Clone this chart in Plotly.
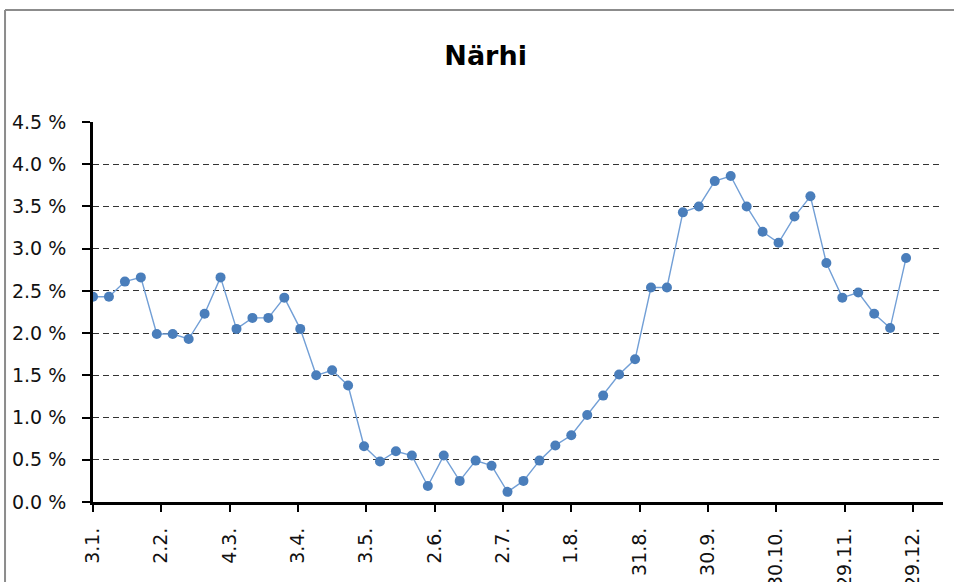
import pandas as pd
import plotly.graph_objects as go

TITLE = "Närhi"
START = "2021-01-03"

# weekly share, percent
share = [
    2.43, 2.43, 2.61, 2.66, 1.99, 1.99, 1.93, 2.23, 2.66, 2.05,
    2.18, 2.18, 2.42, 2.05, 1.50, 1.56, 1.38, 0.66, 0.48, 0.60,
    0.55, 0.19, 0.55, 0.25, 0.49, 0.43, 0.12, 0.25, 0.49, 0.67,
    0.79, 1.03, 1.26, 1.51, 1.69, 2.54, 2.54, 3.43, 3.50, 3.80,
    3.86, 3.50, 3.20, 3.07, 3.38, 3.62, 2.83, 2.42, 2.48, 2.23,
    2.06, 2.89,
]
weeks = pd.date_range(START, periods=len(share), freq="7D")

tick_dates = [
    "2021-01-03", "2021-02-02", "2021-03-04", "2021-04-03", "2021-05-03",
    "2021-06-02", "2021-07-02", "2021-08-01", "2021-08-31", "2021-09-30",
    "2021-10-30", "2021-11-29", "2021-12-29",
]
tick_labels = [
    "3.1.", "2.2.", "4.3.", "3.4.", "3.5.", "2.6.", "2.7.", "1.8.",
    "31.8.", "30.9.", "30.10.", "29.11.", "29.12.",
]

FONT = "DejaVu Sans"
BORDER = {"color": "#8c8c8c", "width": 2}

fig = go.Figure(
    go.Scatter(
        x=weeks,
        y=share,
        mode="lines+markers",
        line={"color": "#729fd6", "width": 1.4},
        marker={"color": "#4a7ebb", "size": 10},
        showlegend=False,
    )
)

fig.update_layout(
    width=954,
    height=582,
    margin={"l": 93, "r": 11, "t": 122, "b": 80, "autoexpand": False},
    paper_bgcolor="white",
    plot_bgcolor="white",
    font={"family": FONT, "size": 19, "color": "#111"},
    title={
        "text": TITLE,
        "x": 0.509,
        "xanchor": "center",
        "y": 0.905,
        "yanchor": "middle",
        "font": {"family": FONT, "size": 27, "weight": "bold", "color": "#000"},
    },
    # chart frame, only the top and left edges are inside the picture
    shapes=[
        {"type": "line", "xref": "paper", "yref": "paper",
         "x0": -0.1035, "x1": 1.05, "y0": 1.2947, "y1": 1.2947,
         "line": BORDER, "layer": "below"},
        {"type": "line", "xref": "paper", "yref": "paper",
         "x0": -0.1035, "x1": -0.1035, "y0": -0.25, "y1": 1.2947,
         "line": BORDER, "layer": "below"},
    ],
)

fig.update_xaxes(
    type="date",
    range=["2021-01-03", "2022-01-11 05:00"],
    tickvals=tick_dates,
    ticktext=tick_labels,
    tickangle=-90,
    ticks="outside",
    ticklen=7,
    tickwidth=2,
    tickcolor="black",
    showline=True,
    linecolor="black",
    linewidth=3,
    showgrid=False,
    zeroline=False,
    automargin=False,
    ticklabelstandoff=8,
)

fig.update_yaxes(
    range=[0, 4.5],
    dtick=0.5,
    tickformat=".1f",
    ticksuffix=" %",
    ticks="outside",
    ticklen=8,
    tickwidth=2,
    tickcolor="black",
    showline=True,
    linecolor="black",
    linewidth=3,
    showgrid=True,
    gridcolor="#333333",
    gridwidth=1,
    griddash="6px,4px",
    zeroline=False,
    automargin=False,
    ticklabelstandoff=12,
)

fig.write_html(
    "out.html",
    config={"displayModeBar": False},
    post_script="document.body.style.margin='0';document.body.style.overflow='hidden';",
)
